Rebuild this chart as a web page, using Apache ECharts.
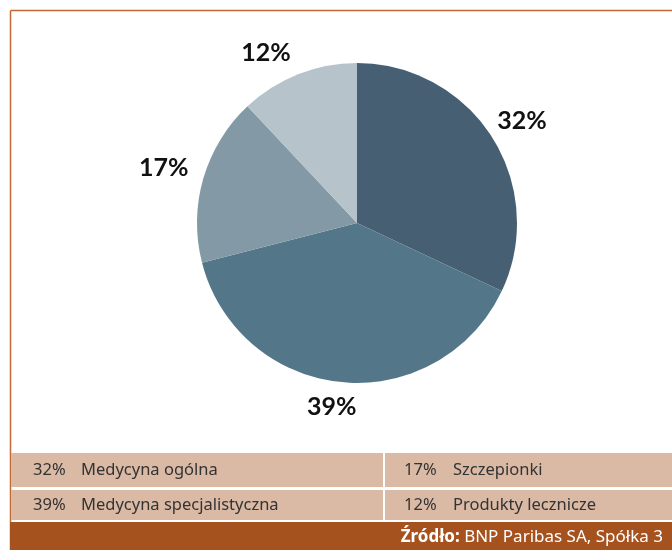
<!DOCTYPE html>
<html>
<head>
<meta charset="utf-8">
<script src="https://cdn.jsdelivr.net/npm/echarts@6/dist/echarts.min.js"></script>
<style>
  html, body { margin: 0; padding: 0; background: #fff; }
  #chart { width: 672px; height: 550px; }
</style>
</head>
<body>
<div id="chart"></div>
<script>
// dane
const categories = ['Medycyna ogólna', 'Medycyna specjalistyczna', 'Szczepionki', 'Produkty lecznicze'];
const shares = [32, 39, 17, 12];
const sliceColors = ['#465f73', '#537789', '#8399a6', '#b7c3ca'];
const sourceLabel = 'Źródło:';
const sourceText = 'BNP Paribas SA, Spółka 3';

// przesunięcia etykiet jak w oryginale (Excel)
const labelShift = [[2, 1], [-7, -8], [-8, -1], [-20, 9]];

const chart = echarts.init(document.getElementById('chart'), null, { renderer: 'canvas' });

// tabelka legendy: 2 kolumny, 2 wiersze
const rowTop = [453, 490];
const rowH = [34, 30];
const colX = [[33, 81], [404, 453]];
const legendEls = [];
rowTop.forEach(function (y, r) {
    legendEls.push({
        type: 'rect', shape: { x: 11, y: y, width: 661, height: rowH[r] },
        style: { fill: '#dab9a5' }
    });
});
legendEls.push({
    type: 'rect', shape: { x: 383, y: 453, width: 2, height: 67 },
    style: { fill: '#ffffff' }
});
categories.forEach(function (name, i) {
    const col = i < 2 ? 0 : 1;
    const row = i % 2;
    const cy = rowTop[row] + rowH[row] / 2;
    legendEls.push({
        type: 'text', x: colX[col][0], y: cy,
        style: { text: shares[i] + '%', font: '16.5px "Noto Sans"', fill: '#333', verticalAlign: 'middle' }
    });
    legendEls.push({
        type: 'text', x: colX[col][1], y: cy,
        style: { text: name, font: '16.5px "Noto Sans"', fill: '#333', verticalAlign: 'middle' }
    });
});

const option = {
    backgroundColor: '#ffffff',
    animation: false,
    graphic: [
        // ramka
        { type: 'line', shape: { x1: 10.5, y1: 10.5, x2: 672, y2: 10.5 }, style: { stroke: '#c46a35', lineWidth: 1.5 } },
        { type: 'line', shape: { x1: 10.5, y1: 10.5, x2: 10.5, y2: 550 }, style: { stroke: '#c46a35', lineWidth: 1.5 } },
        // stopka
        { type: 'rect', shape: { x: 10, y: 522, width: 662, height: 28 }, style: { fill: '#a5521f' } },
        {
            type: 'text', x: 663, y: 537,
            style: {
                text: '{b|' + sourceLabel + '} ' + sourceText,
                font: '17px "Noto Sans"', fill: '#fff', align: 'right', verticalAlign: 'middle',
                rich: { b: { font: 'bold 17px "Noto Sans"', fill: '#fff' } }
            }
        }
    ].concat(legendEls),
    series: [
        {
            type: 'pie',
            center: [357, 223],
            radius: 160,
            startAngle: 90,
            clockwise: true,
            avoidLabelOverlap: false,
            data: shares.map(function (v, i) {
                return { value: v, name: categories[i], itemStyle: { color: sliceColors[i] } };
            }),
            label: {
                show: true,
                position: 'outside',
                formatter: '{c}%',
                fontFamily: 'Lato',
                fontWeight: 'bold',
                fontSize: 25,
                color: '#111',
                distanceToLabelLine: 0
            },
            labelLine: { show: false, length: 33, length2: 0 },
            labelLayout: function (p) {
                const s = labelShift[p.dataIndex];
                return { align: 'center', verticalAlign: 'middle', dx: s[0], dy: s[1] };
            },
            emphasis: { disabled: true }
        }
    ]
};

chart.setOption(option);
</script>
</body>
</html>
